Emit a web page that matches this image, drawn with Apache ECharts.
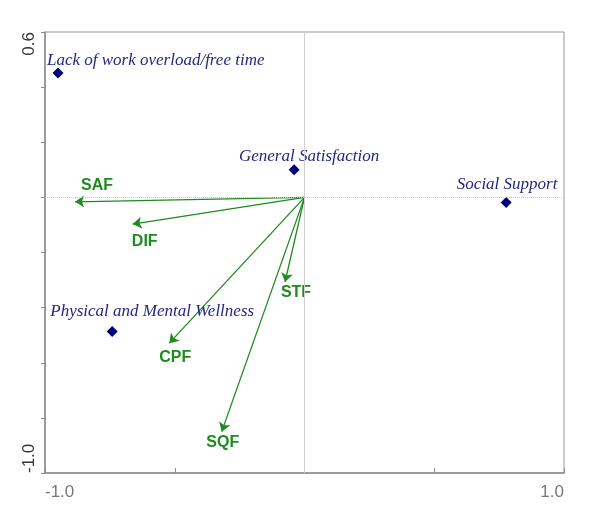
<!DOCTYPE html>
<html><head><meta charset="utf-8">
<script src="https://cdn.jsdelivr.net/npm/echarts@6/dist/echarts.min.js"></script>
<style>html,body{margin:0;padding:0;background:#fff}#c{width:600px;height:527px}</style>
</head><body><div id="c"></div>
<script>
// Site points (blue diamonds)
const pointNames = ['Lack of work overload/free time','General Satisfaction','Social Support','Physical and Mental Wellness'];
const pointX = [-0.95, -0.04, 0.777, -0.741];
const pointY = [0.451, 0.10, -0.019, -0.487];
// Vector arrows (green)
const arrowNames = ['SAF','DIF','STF','CPF','SQF'];
const arrowX = [-0.884, -0.662, -0.075, -0.521, -0.319];
const arrowY = [-0.016, -0.097, -0.307, -0.529, -0.850];
// Axis
const xMin = -1.0, xMax = 1.0, xStep = 0.5;
const yMin = -1.0, yMax = 0.6, yStep = 0.2;

// label placements (style only)
const pointLabelStyle = {
  'Lack of work overload/free time': {offset:[-11,-13], align:'left'},
  'General Satisfaction': {offset:[15,-13], align:'center'},
  'Social Support': {offset:[1,-18], align:'center'},
  'Physical and Mental Wellness': {offset:[40,-20], align:'center'}
};
const arrowLabelOffset = {SAF:[22,-16], DIF:[12,17], STF:[11,11], CPF:[6,14], SQF:[1,11]};

const green = '#1f8a1f';
const navy = '#00007a';
const labelNavy = '#262680';

const chart = echarts.init(document.getElementById('c'));
const near = (a,b)=>Math.abs(a-b)<1e-6;
chart.setOption({
  animation:false,
  grid:{left:45,right:36,top:32,bottom:54,show:true,borderColor:'#9a948c',borderWidth:1},
  xAxis:{type:'value',min:xMin,max:xMax,interval:xStep,
    axisLine:{show:true,onZero:false,lineStyle:{color:'#8c8c8c',width:1.5}},
    axisTick:{show:true,inside:true,length:5,lineStyle:{color:'#8c8c8c'}},
    splitLine:{show:false},
    axisLabel:{margin:11,fontSize:17,color:'#777',fontFamily:'Liberation Sans, Arial, sans-serif',
      alignMinLabel:'left',alignMaxLabel:'right',
      formatter:v=>(near(v,xMin)||near(v,xMax))?v.toFixed(1):''}},
  yAxis:{type:'value',min:yMin,max:yMax,interval:yStep,
    axisLine:{show:true,onZero:false,lineStyle:{color:'#8c8c8c',width:1.5}},
    axisTick:{show:true,inside:false,length:4,lineStyle:{color:'#8c8c8c'}},
    splitLine:{show:false},
    axisLabel:{margin:7,fontSize:17,color:'#333',rotate:90,fontFamily:'Liberation Sans, Arial, sans-serif',
      alignMinLabel:'left',alignMaxLabel:'right',
      formatter:v=>(near(v,yMin)||near(v,yMax))?v.toFixed(1):''}},
  series:[
    {type:'scatter',symbol:'diamond',symbolSize:11,itemStyle:{color:navy,opacity:1},
     data:pointNames.map((n,i)=>({name:n,value:[pointX[i],pointY[i]],
       label:{show:true,position:'inside',offset:pointLabelStyle[n].offset,align:pointLabelStyle[n].align,
         formatter:'{b}',color:labelNavy,fontSize:17,fontStyle:'italic',fontFamily:'Liberation Serif, Times New Roman, serif'}})),
     markLine:{silent:true,symbol:'none',label:{show:false},animation:false,
       data:[{xAxis:0,lineStyle:{color:'#d0d0d0',type:'solid',width:1}},
             {yAxis:0,lineStyle:{color:'#c8c8c8',type:'dotted',width:1}}]},
     z:3},
    {type:'lines',coordinateSystem:'cartesian2d',symbol:['none','arrow'],symbolSize:[0,9],
     lineStyle:{color:green,width:1.3,opacity:1},
     data:arrowNames.map((n,i)=>({coords:[[0,0],[arrowX[i],arrowY[i]]]})),z:2},
    {type:'scatter',symbol:'circle',symbolSize:1,silent:true,itemStyle:{opacity:0},
     data:arrowNames.map((n,i)=>({name:n,value:[arrowX[i],arrowY[i]],
       label:{show:true,position:'inside',offset:arrowLabelOffset[n],formatter:'{b}',opacity:1,
         color:green,fontSize:16,fontWeight:'bold',fontFamily:'Liberation Sans, Arial, sans-serif'}})),z:4}
  ]
});
</script></body></html>
